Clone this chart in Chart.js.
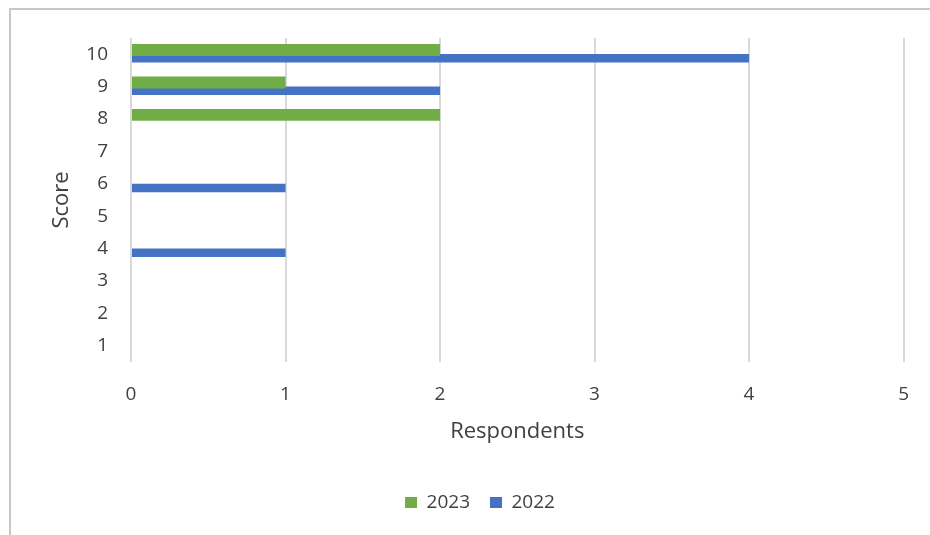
<!DOCTYPE html>
<html>
<head>
<meta charset="utf-8">
<script src="https://cdn.jsdelivr.net/npm/chart.js@4"></script>
<style>
  html, body { margin: 0; padding: 0; background: #fff; overflow: hidden; }
  .frame { position: absolute; left: 9px; top: 8px; width: 1000px; height: 600px;
           border-top: 2px solid #c8c8c8; border-left: 2px solid #c8c8c8; }
  .wrap { position: absolute; left: 0; top: 0; width: 930px; height: 535px; }
</style>
</head>
<body>
<div class="frame"></div>
<div class="wrap"><canvas id="myChart"></canvas></div>
<script>
// scores on the y axis, bottom to top
const scores = ['1', '2', '3', '4', '5', '6', '7', '8', '9', '10'];
// number of respondents per score
const responses2023 = [0, 0, 0, 0, 0, 0, 0, 2, 1, 2];
const responses2022 = [0, 0, 0, 1, 0, 1, 0, 0, 2, 4];
const seriesNames = ['2023', '2022'];

const textColor = '#404040';
const fontFamily = "'Open Sans', sans-serif";

var ctx = document.getElementById('myChart');
var chart = new Chart(ctx, {
  type: 'bar',
  data: {
    labels: scores,
    datasets: [
      {
        label: seriesNames[0],
        data: responses2023,
        backgroundColor: '#70AD47',
        categoryPercentage: 0.51,
        barPercentage: 1.45
      },
      {
        label: seriesNames[1],
        data: responses2022,
        backgroundColor: '#4472C4',
        categoryPercentage: 0.51,
        barPercentage: 1.03
      }
    ]
  },
  options: {
    indexAxis: 'y',
    responsive: true,
    maintainAspectRatio: false,
    animation: false,
    layout: {
      padding: { left: 54, right: 24, top: 38, bottom: 13 }
    },
    plugins: {
      legend: {
        position: 'bottom',
        labels: {
          boxWidth: 12,
          boxHeight: 11,
          padding: 20,
          color: textColor,
          font: { family: fontFamily, size: 19 }
        }
      },
      tooltip: { enabled: false }
    },
    scales: {
      x: {
        min: 0,
        max: 5,
        ticks: {
          stepSize: 1,
          padding: 21,
          color: textColor,
          font: { family: fontFamily, size: 19 }
        },
        grid: { color: '#d9d9d9', lineWidth: 2, drawTicks: false },
        border: { display: false },
        title: {
          display: true,
          text: 'Respondents',
          color: textColor,
          font: { family: fontFamily, size: 22 },
          padding: { top: 0, bottom: 28 }
        },
        afterFit: (scale) => { scale.height = 111; }
      },
      y: {
        reverse: true,
        ticks: {
          padding: 23,
          color: textColor,
          font: { family: fontFamily, size: 19 }
        },
        grid: { display: false, drawTicks: false },
        border: { display: false },
        title: {
          display: true,
          text: 'Score',
          color: textColor,
          font: { family: fontFamily, size: 22 },
          padding: { top: -5, bottom: 0 }
        },
        afterFit: (scale) => { scale.width = 77; }
      }
    }
  }
});
</script>
</body>
</html>
